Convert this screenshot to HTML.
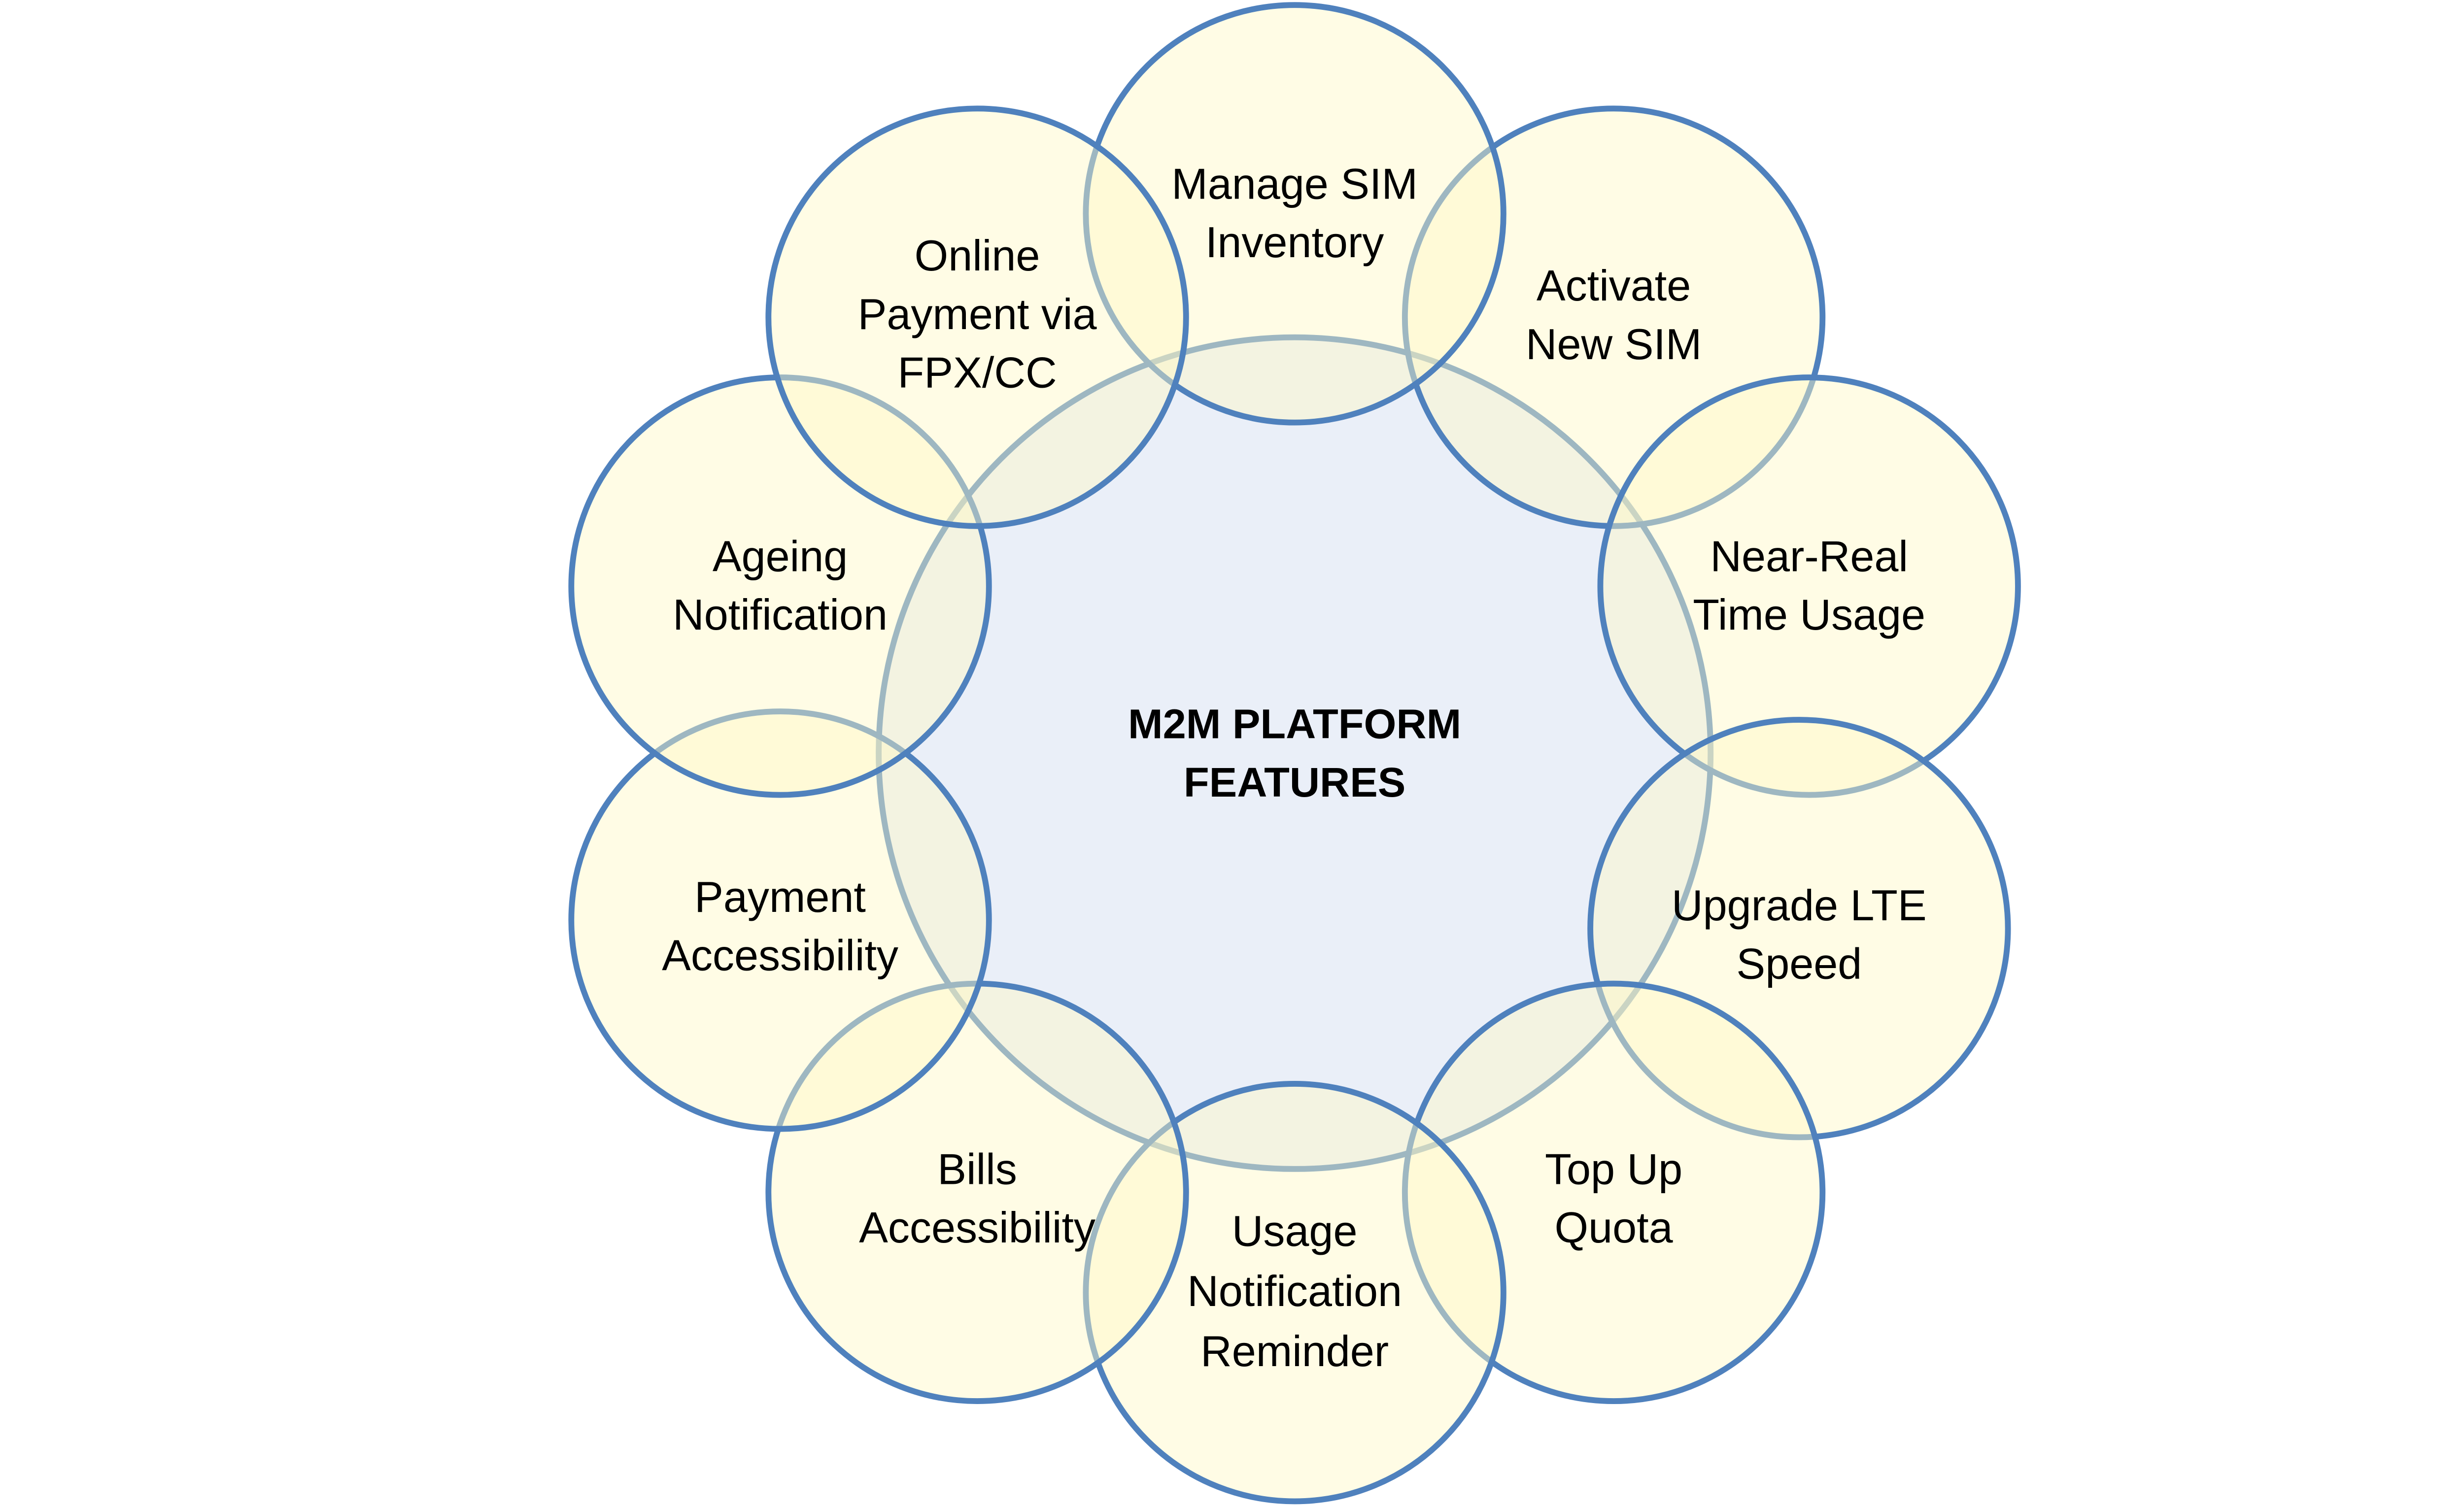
<!DOCTYPE html>
<html><head><meta charset="utf-8"><style>
html,body{margin:0;padding:0;background:#fff;width:5261px;height:3061px;overflow:hidden;}
svg{display:block;position:absolute;left:0;top:0;}
text{font-family:"Liberation Sans",sans-serif;fill:#000;text-anchor:middle;}
</style></head><body>
<svg width="5261" height="3061" viewBox="0 0 1552 903" preserveAspectRatio="none" xmlns="http://www.w3.org/2000/svg">
<rect width="1552" height="903" fill="#fff"/>
<circle cx="775" cy="451" r="249" fill="#EAEFF8" stroke="#4F81BD" stroke-width="3.5"/>
<g fill="#FFF9C5" fill-opacity="0.45" stroke="#4F81BD" stroke-width="3.5">
<circle cx="966" cy="190" r="125"/>
<circle cx="1083" cy="351" r="125"/>
<circle cx="1077" cy="556" r="125"/>
<circle cx="966" cy="714" r="125"/>
<circle cx="775" cy="774" r="125"/>
<circle cx="585" cy="714" r="125"/>
<circle cx="467" cy="551" r="125"/>
<circle cx="467" cy="351" r="125"/>
<circle cx="775" cy="128" r="125"/>
<circle cx="585" cy="190" r="125"/>
</g>
<g font-size="26">
<text x="775" y="119">Manage SIM</text><text x="775" y="154">Inventory</text>
<text x="966" y="180">Activate</text><text x="966" y="215">New SIM</text>
<text x="585" y="162">Online</text><text x="585" y="197">Payment via</text><text x="585" y="232">FPX/CC</text>
<text x="467" y="342">Ageing</text><text x="467" y="377">Notification</text>
<text x="1083" y="342">Near-Real</text><text x="1083" y="377">Time Usage</text>
<text x="467" y="546">Payment</text><text x="467" y="581">Accessibility</text>
<text x="1077" y="551">Upgrade LTE</text><text x="1077" y="586">Speed</text>
<text x="585" y="709">Bills</text><text x="585" y="744">Accessibility</text>
<text x="966" y="709">Top Up</text><text x="966" y="744">Quota</text>
<text x="775" y="746">Usage</text><text x="775" y="782">Notification</text><text x="775" y="818">Reminder</text>
</g>
<g font-size="25" font-weight="bold">
<text x="775" y="442">M2M PLATFORM</text><text x="775" y="477">FEATURES</text>
</g>
</svg>
</body></html>
